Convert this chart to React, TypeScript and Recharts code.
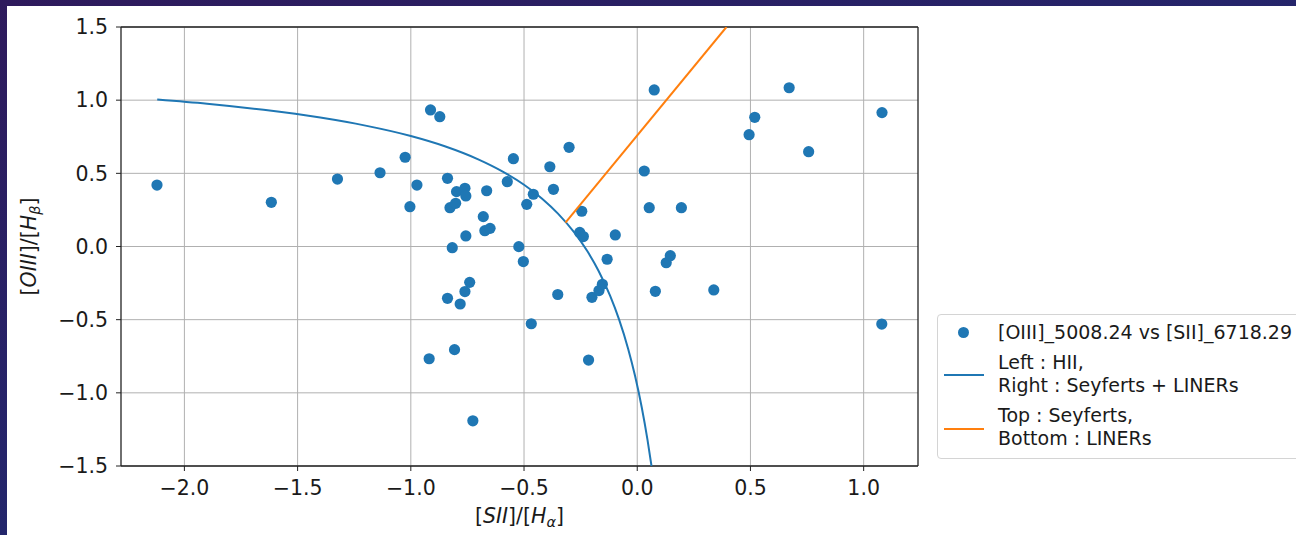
import React from 'react'
import { ScatterChart, Scatter, XAxis, YAxis, CartesianGrid, ReferenceLine, Label } from 'recharts'

// Line-ratio measurements: x = log([SII]/Ha), y = log([OIII]/Hb)
const siiHa = [
  -2.121, -1.616, -1.324, -1.136, -1.025, -0.973, -1.004, -0.913, -0.872, -0.838,
  -0.798, -0.761, -0.757, -0.827, -0.802, -0.665, -0.68, -0.673, -0.65, -0.757,
  -0.817, -0.574, -0.547, -0.488, -0.459, -0.386, -0.37, -0.301, -0.523, -0.503,
  -0.74, -0.761, -0.838, -0.782, -0.919, -0.807, -0.726, -0.468, -0.351, -0.215,
  -0.2, -0.169, -0.154, -0.133, -0.097, -0.245, -0.254, -0.238, 0.031, 0.053,
  0.195, 0.075, 0.08, 0.128, 0.146, 0.338, 0.494, 0.519, 0.671, 0.757,
  1.081, 1.08,
]
const oiiiHb = [
  0.42, 0.302, 0.461, 0.504, 0.61, 0.42, 0.272, 0.933, 0.887, 0.466,
  0.375, 0.398, 0.345, 0.265, 0.295, 0.381, 0.204, 0.108, 0.124, 0.072,
  -0.008, 0.443, 0.6, 0.288, 0.357, 0.545, 0.391, 0.678, -0.001, -0.103,
  -0.245, -0.308, -0.354, -0.393, -0.767, -0.705, -1.191, -0.528, -0.328, -0.776,
  -0.347, -0.301, -0.258, -0.087, 0.079, 0.241, 0.096, 0.068, 0.516, 0.265,
  0.265, 1.07, -0.306, -0.111, -0.063, -0.297, 0.764, 0.883, 1.085, 0.648,
  0.915, -0.53,
]

// HII / AGN boundary
const hiiLineX = [-2.12, -1.9, -1.65, -1.4, -1.2, -1.0, -0.85, -0.7, -0.6, -0.5, -0.42, -0.35, -0.28, -0.22, -0.17, -0.12, -0.08, -0.04, -0.01, 0.02, 0.045, 0.063]
const hiiLineY = [1.005, 0.976, 0.934, 0.881, 0.826, 0.755, 0.685, 0.594, 0.517, 0.422, 0.327, 0.225, 0.1, -0.033, -0.169, -0.336, -0.5, -0.7, -0.882, -1.1, -1.318, -1.5]

// Seyfert / LINER boundary
const agnLineX = [-0.317, 0.394]
const agnLineY = [0.163, 1.5]

const xTicks = [-2, -1.5, -1, -0.5, 0, 0.5, 1]
const yTicks = [-1.5, -1, -0.5, 0, 0.5, 1, 1.5]

const points = siiHa.map((x, i) => ({ x, y: oiiiHb[i] }))
const hiiLine = hiiLineX.map((x, i) => ({ x, y: hiiLineY[i] }))
const agnLine = agnLineX.map((x, i) => ({ x, y: agnLineY[i] }))

const BLUE = '#1f77b4'
const ORANGE = '#ff7f0e'
const FONT = 'DejaVu Sans'

const fmt = (v: number) => v.toFixed(1).replace('-', '\u2212')
const tickStyle = { fill: '#1a1a1a', fontSize: 20.5, fontFamily: FONT }

const Dot = (p: any) => <circle cx={p.cx} cy={p.cy} r={5.6} fill={BLUE} />
const NoDot = () => <g />

const XTitle = (props: any) => {
  const vb = props.viewBox
  const cx = vb.x + vb.width / 2
  return (
    <text x={cx} y={523} textAnchor="middle" fontFamily={FONT} fontSize={20.5} fill="#1a1a1a">
      <tspan>[</tspan>
      <tspan fontStyle="italic">SII</tspan>
      <tspan>]/[</tspan>
      <tspan fontStyle="italic">H</tspan>
      <tspan fontStyle="italic" fontSize={14.5} dy={4}>α</tspan>
      <tspan dy={-4}>]</tspan>
    </text>
  )
}

const YTitle = (props: any) => {
  const vb = props.viewBox
  const cy = vb.y + vb.height / 2
  return (
    <text x={0} y={0} transform={`translate(36, ${cy}) rotate(-90)`} textAnchor="middle" fontFamily={FONT} fontSize={20.5} fill="#1a1a1a">
      <tspan>[</tspan>
      <tspan fontStyle="italic">OIII</tspan>
      <tspan>]/[</tspan>
      <tspan fontStyle="italic">H</tspan>
      <tspan fontStyle="italic" fontSize={14.5} dy={4}>β</tspan>
      <tspan dy={-4}>]</tspan>
    </text>
  )
}

const legendText: React.CSSProperties = {
  position: 'absolute',
  left: 60,
  fontFamily: FONT,
  fontSize: 19,
  lineHeight: '22px',
  color: '#1a1a1a',
  whiteSpace: 'nowrap',
}

function BptLegend() {
  return (
    <div
      style={{
        position: 'absolute',
        left: 937,
        top: 314,
        width: 420,
        height: 143,
        border: '1px solid #d4d4d4',
        borderRadius: 4,
        background: '#fff',
      }}
    >
      <div style={{ position: 'absolute', left: 20, top: 12, width: 11, height: 11, borderRadius: '50%', background: BLUE }} />
      <div style={{ ...legendText, top: 6 }}>[OIII]_5008.24 vs [SII]_6718.29</div>
      <div style={{ position: 'absolute', left: 6, top: 59, width: 40, height: 2, background: BLUE }} />
      <div style={{ ...legendText, top: 36 }}>Left : HII,</div>
      <div style={{ ...legendText, top: 59 }}>Right : Seyferts + LINERs</div>
      <div style={{ position: 'absolute', left: 6, top: 113, width: 40, height: 2, background: ORANGE }} />
      <div style={{ ...legendText, top: 89 }}>Top : Seyferts,</div>
      <div style={{ ...legendText, top: 112 }}>Bottom : LINERs</div>
    </div>
  )
}

export default function App() {
  return (
    <div
      style={{
        position: 'absolute',
        left: 0,
        top: 0,
        width: 1296,
        height: 535,
        overflow: 'hidden',
        background: 'linear-gradient(160deg, #2e1a5c 0%, #25246a 45%, #1e2c6e 75%, #2b3580 100%)',
      }}
    >
      <div style={{ position: 'absolute', left: 7, top: 6, right: 0, bottom: 0, background: '#fff' }} />
      <div style={{ position: 'absolute', left: 0, top: 0 }}>
        <ScatterChart width={1296} height={535} margin={{ top: 27, right: 378, bottom: 0, left: 0 }}>
          <CartesianGrid stroke="#b0b0b0" strokeWidth={1} horizontalValues={yTicks} verticalValues={xTicks} />
          <XAxis
            type="number"
            dataKey="x"
            domain={[-2.28, 1.24]}
            ticks={xTicks}
            allowDataOverflow
            height={69}
            tickFormatter={fmt}
            tick={tickStyle}
            tickSize={5}
            tickMargin={9}
            stroke="#222"
            axisLine={{ stroke: '#222', strokeWidth: 1.3 }}
            tickLine={{ stroke: '#222' }}
          >
            <Label content={XTitle} />
          </XAxis>
          <YAxis
            type="number"
            dataKey="y"
            domain={[-1.5, 1.5]}
            ticks={yTicks}
            allowDataOverflow
            width={121}
            tickFormatter={fmt}
            tick={tickStyle}
            tickSize={5}
            tickMargin={8}
            axisLine={{ stroke: '#222', strokeWidth: 1.3 }}
            tickLine={{ stroke: '#222' }}
          >
            <Label content={YTitle} />
          </YAxis>
          <ReferenceLine y={1.5} stroke="#222" strokeWidth={1.3} />
          <ReferenceLine x={1.24} stroke="#222" strokeWidth={1.3} />
          <Scatter data={points} shape={Dot} isAnimationActive={false} />
          <Scatter
            data={hiiLine}
            line={{ stroke: BLUE, strokeWidth: 2 }}
            lineType="joint"
            lineJointType="monotoneX"
            shape={NoDot}
            isAnimationActive={false}
          />
          <Scatter
            data={agnLine}
            line={{ stroke: ORANGE, strokeWidth: 2 }}
            lineType="joint"
            shape={NoDot}
            isAnimationActive={false}
          />
        </ScatterChart>
      </div>
      <BptLegend />
    </div>
  )
}
